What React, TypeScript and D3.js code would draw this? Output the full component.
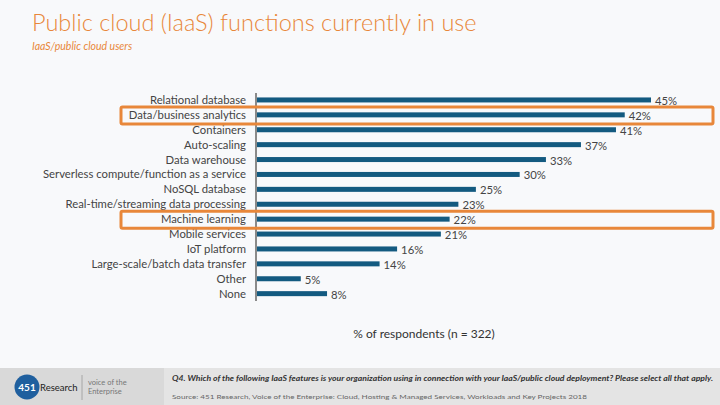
import { useRef, useEffect } from 'react';
import * as d3 from 'd3';

const categories = [
  'Relational database',
  'Data/business analytics',
  'Containers',
  'Auto-scaling',
  'Data warehouse',
  'Serverless compute/function as a service',
  'NoSQL database',
  'Real-time/streaming data processing',
  'Machine learning',
  'Mobile services',
  'IoT platform',
  'Large-scale/batch data transfer',
  'Other',
  'None',
];

const values = [45, 42, 41, 37, 33, 30, 25, 23, 22, 21, 16, 14, 5, 8];

// rows called out with an orange frame
const highlighted = ['Data/business analytics', 'Machine learning'];

const W = 720;
const H = 405;
const FONT = 'Lato, "Open Sans", sans-serif';
const ORANGE = '#e8873a';

const CloudChart = () => {
  const svgRef = useRef<SVGSVGElement>(null);

  useEffect(() => {
    const svg = d3.select(svgRef.current);
    svg.selectAll('*').remove();

    svg.append('rect').attr('width', W).attr('height', H).attr('fill', '#f8f9fb');

    // title block
    svg.append('text')
      .attr('x', 32).attr('y', 31)
      .attr('font-family', FONT).attr('font-size', 23.5).attr('font-weight', 300)
      .attr('fill', ORANGE)
      .text('Public cloud (IaaS) functions currently in use');
    svg.append('text')
      .attr('x', 32).attr('y', 50)
      .attr('font-family', FONT).attr('font-size', 10.5).attr('font-style', 'italic')
      .attr('fill', ORANGE)
      .text('IaaS/public cloud users');

    const x = d3.scaleLinear().domain([0, 45]).range([257, 651]);
    const y = d3.scaleBand<string>().domain(categories).range([92.5, 301.1]).padding(0);
    const barH = 5;

    const rows = categories.map((c, i) => ({ c, v: values[i] }));

    // bars
    svg.append('g').selectAll('rect')
      .data(rows)
      .enter().append('rect')
      .attr('x', x(0))
      .attr('y', d => (y(d.c) as number) + y.bandwidth() / 2 - barH / 2)
      .attr('width', d => x(d.v) - x(0))
      .attr('height', barH)
      .attr('fill', '#135a80');

    // category labels
    svg.append('g').selectAll('text')
      .data(rows)
      .enter().append('text')
      .attr('x', 246)
      .attr('y', d => (y(d.c) as number) + y.bandwidth() / 2)
      .attr('dy', '0.35em')
      .attr('text-anchor', 'end')
      .attr('font-family', FONT).attr('font-size', 11.3)
      .attr('fill', '#444')
      .text(d => d.c);

    // value labels
    svg.append('g').selectAll('text')
      .data(rows)
      .enter().append('text')
      .attr('x', d => x(d.v) + 4)
      .attr('y', d => (y(d.c) as number) + y.bandwidth() / 2 + 1)
      .attr('dy', '0.35em')
      .attr('font-family', FONT).attr('font-size', 11.3)
      .attr('fill', '#444')
      .text(d => `${d.v}%`);

    // category axis line
    svg.append('line')
      .attr('x1', 256).attr('x2', 256)
      .attr('y1', 93).attr('y2', 301)
      .attr('stroke', '#8a8a8a').attr('stroke-width', 2);

    // highlight frames
    svg.append('g').selectAll('rect')
      .data(highlighted)
      .enter().append('rect')
      .attr('x', 121)
      .attr('y', d => (y(d) as number) - 0.5)
      .attr('width', 592)
      .attr('height', 17)
      .attr('rx', 1.5)
      .attr('fill', 'none')
      .attr('stroke', ORANGE)
      .attr('stroke-width', 3);

    svg.append('text')
      .attr('x', 424).attr('y', 338)
      .attr('text-anchor', 'middle')
      .attr('font-family', FONT).attr('font-size', 12)
      .attr('fill', '#333')
      .text('% of respondents (n = 322)');

    // footer band
    svg.append('rect').attr('x', 0).attr('y', 368).attr('width', W).attr('height', H - 368).attr('fill', '#e4e4e4');
    svg.append('rect').attr('x', 0).attr('y', 368).attr('width', 164).attr('height', H - 368).attr('fill', '#d9d9d9');

    // logo
    const logo = svg.append('g');
    logo.append('circle').attr('cx', 27).attr('cy', 387).attr('r', 12.5).attr('fill', '#1f5f9e');
    logo.append('text')
      .attr('x', 27).attr('y', 390.5).attr('text-anchor', 'middle')
      .attr('font-family', FONT).attr('font-size', 10).attr('font-weight', 700)
      .attr('fill', '#fff').text('451');
    logo.append('text')
      .attr('x', 40).attr('y', 390.5)
      .attr('font-family', FONT).attr('font-size', 9.5)
      .attr('fill', '#222').text('Research');
    logo.append('line')
      .attr('x1', 82).attr('x2', 82).attr('y1', 375).attr('y2', 400)
      .attr('stroke', '#999').attr('stroke-width', 0.8);
    logo.append('text')
      .attr('x', 88).attr('y', 385)
      .attr('font-family', FONT).attr('font-size', 7.5)
      .attr('fill', '#777').text('voice of the');
    logo.append('text')
      .attr('x', 88).attr('y', 394)
      .attr('font-family', FONT).attr('font-size', 7.5)
      .attr('fill', '#777').text('Enterprise');

    svg.append('text')
      .attr('x', 172).attr('y', 381)
      .attr('font-family', FONT).attr('font-size', 6.5)
      .attr('font-weight', 700).attr('font-style', 'italic')
      .attr('textLength', 541).attr('lengthAdjust', 'spacingAndGlyphs')
      .attr('fill', '#333')
      .text('Q4. Which of the following IaaS features is your organization using in connection with your IaaS/public cloud deployment? Please select all that apply.');
    svg.append('text')
      .attr('x', 172).attr('y', 399)
      .attr('font-family', FONT).attr('font-size', 6.5)
      .attr('textLength', 415).attr('lengthAdjust', 'spacingAndGlyphs')
      .attr('fill', '#666')
      .text('Source: 451 Research, Voice of the Enterprise: Cloud, Hosting & Managed Services, Workloads and Key Projects 2018');
  }, []);

  return (
    <svg
      ref={svgRef}
      width={W}
      height={H}
      style={{ position: 'absolute', left: 0, top: 0, display: 'block' }}
    />
  );
};

export default function App() {
  return <CloudChart />;
}
